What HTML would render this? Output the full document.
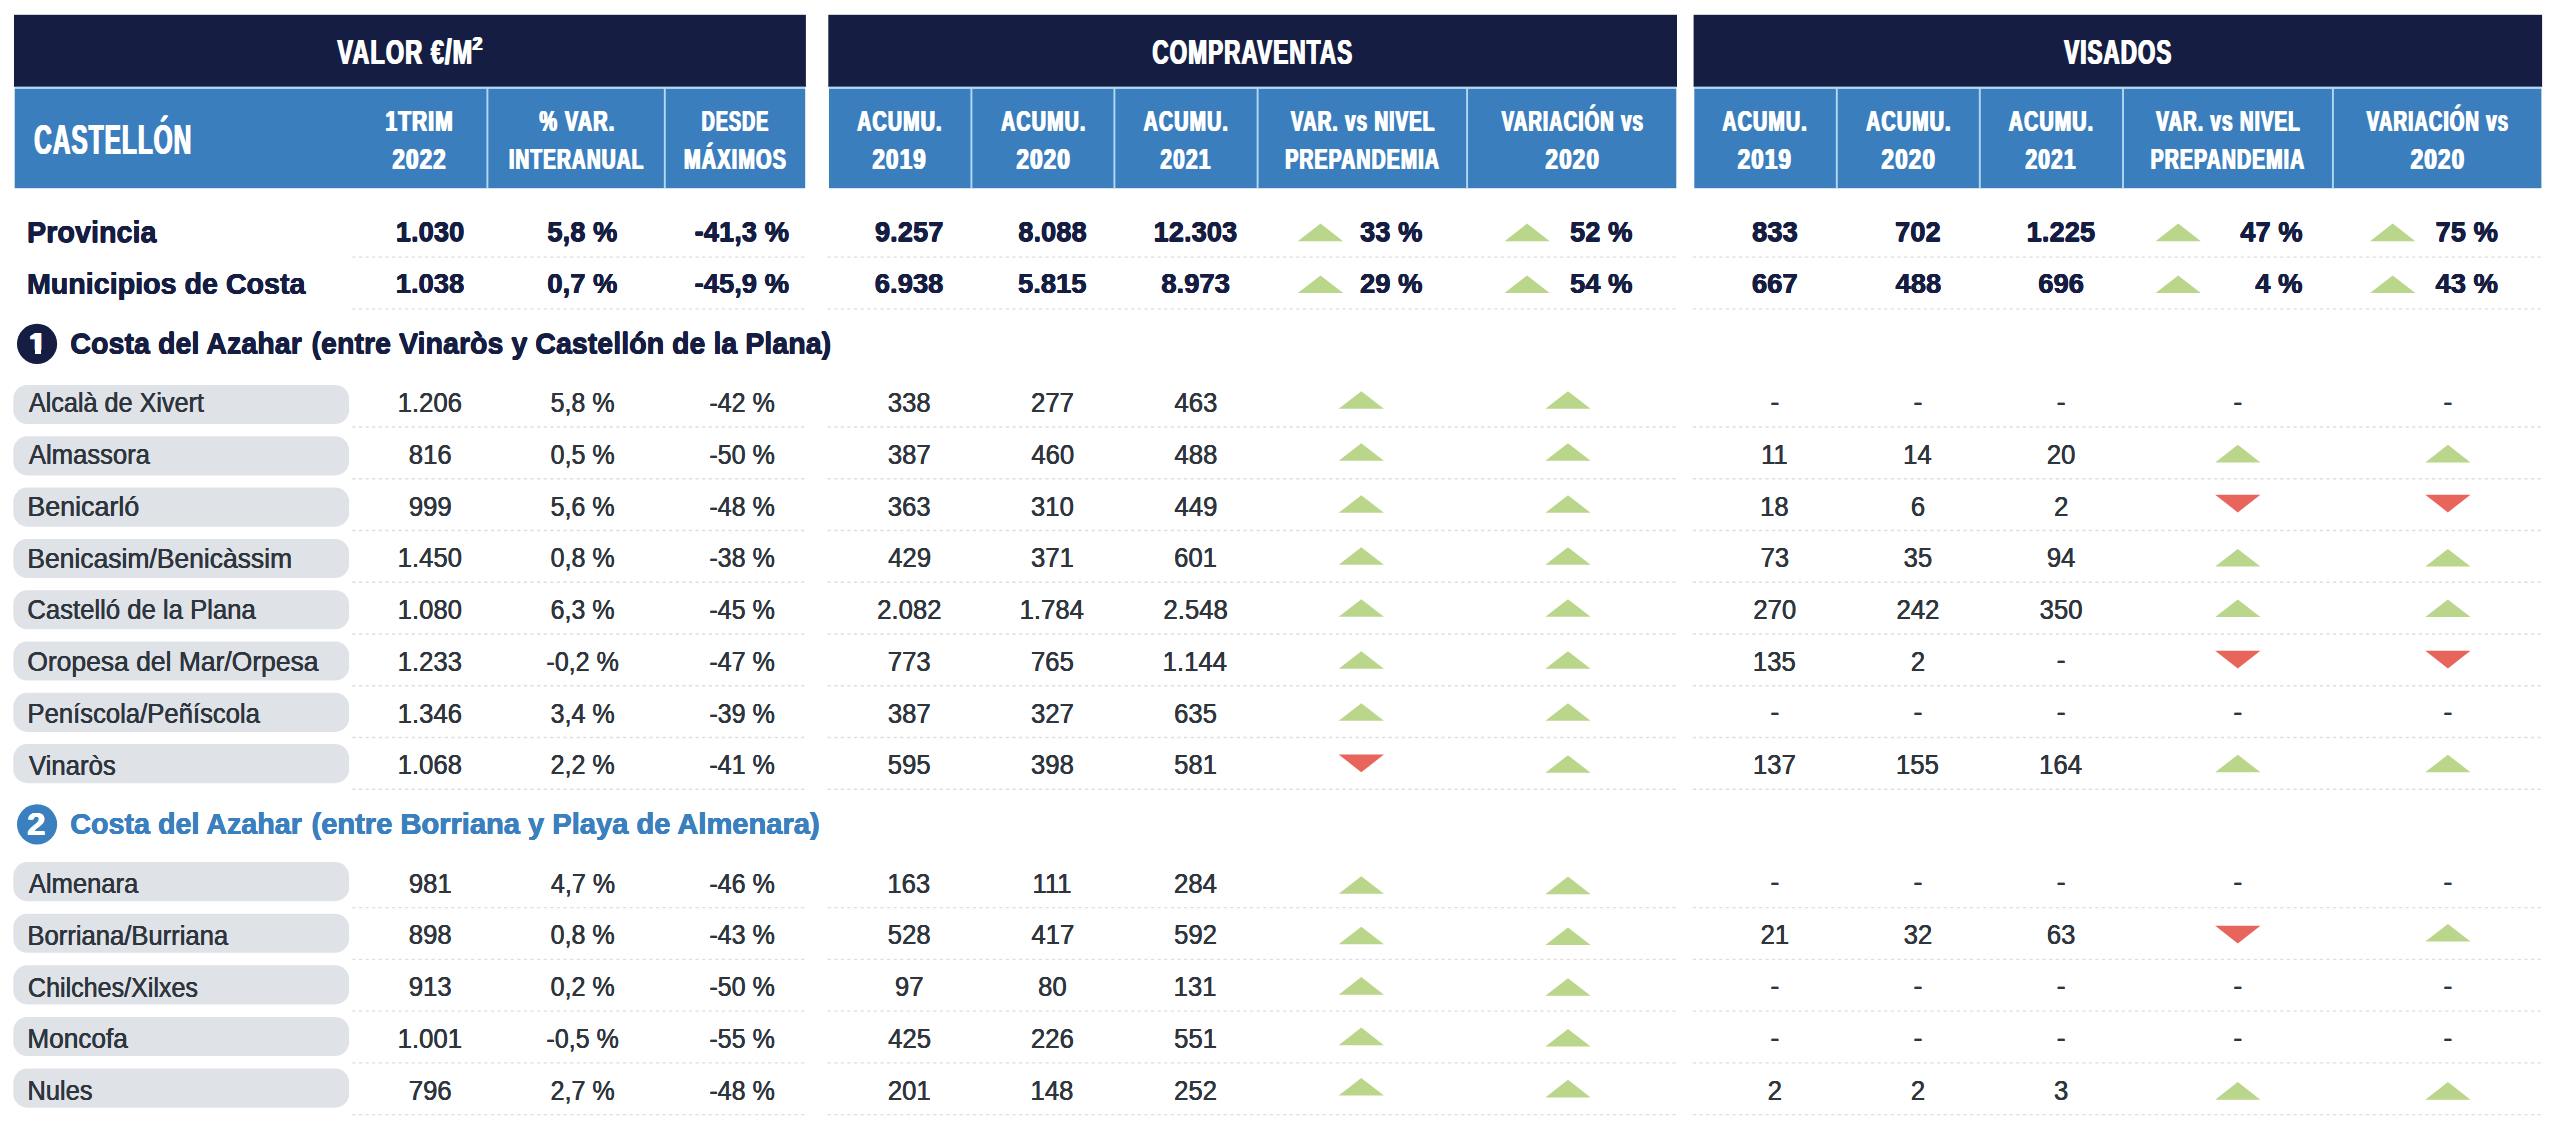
<!DOCTYPE html>
<html lang="es"><head><meta charset="utf-8"><title>Castellón</title>
<style>
html,body{margin:0;padding:0;background:#fff}
body{width:2560px;height:1131px;position:relative;overflow:hidden;font-family:"Liberation Sans",sans-serif}
.dl{stroke:#dedede;stroke-width:1.3;stroke-dasharray:3.2 3.4;fill:none}
#t span{position:absolute;white-space:nowrap;line-height:1;display:block;left:0;top:0;transform-origin:0 0;text-shadow:0.15px 0 currentColor,-0.15px 0 currentColor}
#t .b{font-weight:700;text-shadow:0.3px 0 currentColor,-0.3px 0 currentColor,0 0.2px currentColor,0 -0.2px currentColor}
#t .n{text-shadow:1.7px 0 currentColor,-1.7px 0 currentColor,0.85px 0 currentColor,-0.85px 0 currentColor,0 0.5px currentColor,0 -0.5px currentColor,1.7px 0.5px currentColor,-1.7px -0.5px currentColor,1.7px -0.5px currentColor,-1.7px 0.5px currentColor}
#t .n1{clip-path:polygon(-6px -6px,26px -6px,26px 21.5px,11.88px 21.5px,11.88px 31px,5.92px 31px,5.92px 21.5px,-6px 21.5px)}
#t .h{font-weight:700;letter-spacing:1.7px;text-shadow:1.05px 0 currentColor,-1.05px 0 currentColor}
svg{position:absolute;left:0;top:0}
</style></head><body>
<svg width="2560" height="1131" viewBox="0 0 2560 1131">
<rect x="14.00" y="14.80" width="791.90" height="72.10" fill="#151e42"/>
<rect x="14.70" y="86.70" width="790.50" height="2.30" fill="#b2d8f1"/>
<rect x="14.70" y="88.90" width="790.50" height="99.30" fill="#3a7ebd"/>
<rect x="486.45" y="88.00" width="1.90" height="100.20" fill="#b2d8f1"/>
<rect x="663.85" y="88.00" width="1.90" height="100.20" fill="#b2d8f1"/>
<rect x="828.30" y="14.80" width="848.70" height="72.10" fill="#151e42"/>
<rect x="829.00" y="86.70" width="847.30" height="2.30" fill="#b2d8f1"/>
<rect x="829.00" y="88.90" width="847.30" height="99.30" fill="#3a7ebd"/>
<rect x="970.45" y="88.00" width="1.90" height="100.20" fill="#b2d8f1"/>
<rect x="1113.45" y="88.00" width="1.90" height="100.20" fill="#b2d8f1"/>
<rect x="1256.65" y="88.00" width="1.90" height="100.20" fill="#b2d8f1"/>
<rect x="1466.15" y="88.00" width="1.90" height="100.20" fill="#b2d8f1"/>
<rect x="1693.60" y="14.80" width="848.50" height="72.10" fill="#151e42"/>
<rect x="1694.30" y="86.70" width="847.10" height="2.30" fill="#b2d8f1"/>
<rect x="1694.30" y="88.90" width="847.10" height="99.30" fill="#3a7ebd"/>
<rect x="1835.85" y="88.00" width="1.90" height="100.20" fill="#b2d8f1"/>
<rect x="1978.85" y="88.00" width="1.90" height="100.20" fill="#b2d8f1"/>
<rect x="2122.05" y="88.00" width="1.90" height="100.20" fill="#b2d8f1"/>
<rect x="2331.95" y="88.00" width="1.90" height="100.20" fill="#b2d8f1"/>
<path class="dl" d="M352.30 257.10H805.80"/>
<path class="dl" d="M827.60 257.10H1677.40"/>
<path class="dl" d="M1692.80 257.10H2542.30"/>
<path class="dl" d="M352.30 308.90H805.80"/>
<path class="dl" d="M827.60 308.90H1677.40"/>
<path class="dl" d="M1692.80 308.90H2542.30"/>
<circle cx="37.05" cy="343.90" r="20.1" fill="#151e42"/>
<circle cx="37.05" cy="824.40" r="20.1" fill="#3b80be"/>
<path class="dl" d="M352.30 427.00H805.80"/>
<path class="dl" d="M827.60 427.00H1677.40"/>
<path class="dl" d="M1692.80 427.00H2542.30"/>
<rect x="13.3" y="385.00" width="335.8" height="39.1" rx="14" fill="#dfe3e8"/>
<path class="dl" d="M352.30 478.75H805.80"/>
<path class="dl" d="M827.60 478.75H1677.40"/>
<path class="dl" d="M1692.80 478.75H2542.30"/>
<rect x="13.3" y="436.30" width="335.8" height="39.1" rx="14" fill="#dfe3e8"/>
<path class="dl" d="M352.30 530.50H805.80"/>
<path class="dl" d="M827.60 530.50H1677.40"/>
<path class="dl" d="M1692.80 530.50H2542.30"/>
<rect x="13.3" y="487.60" width="335.8" height="39.1" rx="14" fill="#dfe3e8"/>
<path class="dl" d="M352.30 582.25H805.80"/>
<path class="dl" d="M827.60 582.25H1677.40"/>
<path class="dl" d="M1692.80 582.25H2542.30"/>
<rect x="13.3" y="538.90" width="335.8" height="39.1" rx="14" fill="#dfe3e8"/>
<path class="dl" d="M352.30 634.00H805.80"/>
<path class="dl" d="M827.60 634.00H1677.40"/>
<path class="dl" d="M1692.80 634.00H2542.30"/>
<rect x="13.3" y="590.20" width="335.8" height="39.1" rx="14" fill="#dfe3e8"/>
<path class="dl" d="M352.30 685.75H805.80"/>
<path class="dl" d="M827.60 685.75H1677.40"/>
<path class="dl" d="M1692.80 685.75H2542.30"/>
<rect x="13.3" y="641.50" width="335.8" height="39.1" rx="14" fill="#dfe3e8"/>
<path class="dl" d="M352.30 737.50H805.80"/>
<path class="dl" d="M827.60 737.50H1677.40"/>
<path class="dl" d="M1692.80 737.50H2542.30"/>
<rect x="13.3" y="692.80" width="335.8" height="39.1" rx="14" fill="#dfe3e8"/>
<path class="dl" d="M352.30 789.25H805.80"/>
<path class="dl" d="M827.60 789.25H1677.40"/>
<path class="dl" d="M1692.80 789.25H2542.30"/>
<rect x="13.3" y="744.10" width="335.8" height="39.1" rx="14" fill="#dfe3e8"/>
<path class="dl" d="M352.30 907.70H805.80"/>
<path class="dl" d="M827.60 907.70H1677.40"/>
<path class="dl" d="M1692.80 907.70H2542.30"/>
<rect x="13.3" y="862.10" width="335.8" height="39.1" rx="14" fill="#dfe3e8"/>
<path class="dl" d="M352.30 959.45H805.80"/>
<path class="dl" d="M827.60 959.45H1677.40"/>
<path class="dl" d="M1692.80 959.45H2542.30"/>
<rect x="13.3" y="913.73" width="335.8" height="39.1" rx="14" fill="#dfe3e8"/>
<path class="dl" d="M352.30 1011.20H805.80"/>
<path class="dl" d="M827.60 1011.20H1677.40"/>
<path class="dl" d="M1692.80 1011.20H2542.30"/>
<rect x="13.3" y="965.36" width="335.8" height="39.1" rx="14" fill="#dfe3e8"/>
<path class="dl" d="M352.30 1062.95H805.80"/>
<path class="dl" d="M827.60 1062.95H1677.40"/>
<path class="dl" d="M1692.80 1062.95H2542.30"/>
<rect x="13.3" y="1016.99" width="335.8" height="39.1" rx="14" fill="#dfe3e8"/>
<path class="dl" d="M352.30 1114.70H805.80"/>
<path class="dl" d="M827.60 1114.70H1677.40"/>
<path class="dl" d="M1692.80 1114.70H2542.30"/>
<rect x="13.3" y="1068.62" width="335.8" height="39.1" rx="14" fill="#dfe3e8"/>
<polygon points="1297.90,241.20 1320.50,223.60 1343.10,241.20" fill="#b9d68b"/>
<polygon points="1504.50,241.20 1527.10,223.60 1549.70,241.20" fill="#b9d68b"/>
<polygon points="2155.60,241.20 2178.20,223.60 2200.80,241.20" fill="#b9d68b"/>
<polygon points="2370.10,241.20 2392.70,223.60 2415.30,241.20" fill="#b9d68b"/>
<polygon points="1297.90,293.00 1320.50,275.40 1343.10,293.00" fill="#b9d68b"/>
<polygon points="1504.50,293.00 1527.10,275.40 1549.70,293.00" fill="#b9d68b"/>
<polygon points="2155.60,293.00 2178.20,275.40 2200.80,293.00" fill="#b9d68b"/>
<polygon points="2370.10,293.00 2392.70,275.40 2415.30,293.00" fill="#b9d68b"/>
<polygon points="1338.70,408.80 1361.30,391.20 1383.90,408.80" fill="#b9d68b"/>
<polygon points="1545.40,408.80 1568.00,391.20 1590.60,408.80" fill="#b9d68b"/>
<polygon points="1338.70,460.80 1361.30,443.20 1383.90,460.80" fill="#b9d68b"/>
<polygon points="1545.40,460.80 1568.00,443.20 1590.60,460.80" fill="#b9d68b"/>
<polygon points="2215.20,462.40 2237.80,444.80 2260.40,462.40" fill="#b9d68b"/>
<polygon points="2425.30,462.40 2447.90,444.80 2470.50,462.40" fill="#b9d68b"/>
<polygon points="1338.70,512.80 1361.30,495.20 1383.90,512.80" fill="#b9d68b"/>
<polygon points="1545.40,512.80 1568.00,495.20 1590.60,512.80" fill="#b9d68b"/>
<polygon points="2215.20,494.80 2260.40,494.80 2237.80,512.40" fill="#e8655c"/>
<polygon points="2425.30,494.80 2470.50,494.80 2447.90,512.40" fill="#e8655c"/>
<polygon points="1338.70,564.80 1361.30,547.20 1383.90,564.80" fill="#b9d68b"/>
<polygon points="1545.40,564.80 1568.00,547.20 1590.60,564.80" fill="#b9d68b"/>
<polygon points="2215.20,566.50 2237.80,548.90 2260.40,566.50" fill="#b9d68b"/>
<polygon points="2425.30,566.50 2447.90,548.90 2470.50,566.50" fill="#b9d68b"/>
<polygon points="1338.70,616.80 1361.30,599.20 1383.90,616.80" fill="#b9d68b"/>
<polygon points="1545.40,616.80 1568.00,599.20 1590.60,616.80" fill="#b9d68b"/>
<polygon points="2215.20,617.10 2237.80,599.50 2260.40,617.10" fill="#b9d68b"/>
<polygon points="2425.30,617.10 2447.90,599.50 2470.50,617.10" fill="#b9d68b"/>
<polygon points="1338.70,668.80 1361.30,651.20 1383.90,668.80" fill="#b9d68b"/>
<polygon points="1545.40,668.80 1568.00,651.20 1590.60,668.80" fill="#b9d68b"/>
<polygon points="2215.20,650.80 2260.40,650.80 2237.80,668.40" fill="#e8655c"/>
<polygon points="2425.30,650.80 2470.50,650.80 2447.90,668.40" fill="#e8655c"/>
<polygon points="1338.70,720.80 1361.30,703.20 1383.90,720.80" fill="#b9d68b"/>
<polygon points="1545.40,720.80 1568.00,703.20 1590.60,720.80" fill="#b9d68b"/>
<polygon points="1338.70,754.60 1383.90,754.60 1361.30,772.20" fill="#e8655c"/>
<polygon points="1545.40,772.80 1568.00,755.20 1590.60,772.80" fill="#b9d68b"/>
<polygon points="2215.20,772.30 2237.80,754.70 2260.40,772.30" fill="#b9d68b"/>
<polygon points="2425.30,772.30 2447.90,754.70 2470.50,772.30" fill="#b9d68b"/>
<polygon points="1338.70,893.80 1361.30,876.20 1383.90,893.80" fill="#b9d68b"/>
<polygon points="1545.40,894.20 1568.00,876.60 1590.60,894.20" fill="#b9d68b"/>
<polygon points="1338.70,944.25 1361.30,926.65 1383.90,944.25" fill="#b9d68b"/>
<polygon points="1545.40,945.00 1568.00,927.40 1590.60,945.00" fill="#b9d68b"/>
<polygon points="2215.20,925.80 2260.40,925.80 2237.80,943.40" fill="#e8655c"/>
<polygon points="2425.30,941.60 2447.90,924.00 2470.50,941.60" fill="#b9d68b"/>
<polygon points="1338.70,994.70 1361.30,977.10 1383.90,994.70" fill="#b9d68b"/>
<polygon points="1545.40,995.80 1568.00,978.20 1590.60,995.80" fill="#b9d68b"/>
<polygon points="1338.70,1045.15 1361.30,1027.55 1383.90,1045.15" fill="#b9d68b"/>
<polygon points="1545.40,1046.60 1568.00,1029.00 1590.60,1046.60" fill="#b9d68b"/>
<polygon points="1338.70,1095.60 1361.30,1078.00 1383.90,1095.60" fill="#b9d68b"/>
<polygon points="1545.40,1097.40 1568.00,1079.80 1590.60,1097.40" fill="#b9d68b"/>
<polygon points="2215.20,1099.70 2237.80,1082.10 2260.40,1099.70" fill="#b9d68b"/>
<polygon points="2425.30,1099.70 2447.90,1082.10 2470.50,1099.70" fill="#b9d68b"/>
</svg>
<div id="t">
<span class="h" style="font-size:35.60px;color:#fff;transform:translate(337.36px,35.26px) scaleX(0.6588)">VALOR €/M</span>
<span class="h" style="font-size:18.20px;color:#fff;transform:translate(472.70px,34.89px) scaleX(0.9300)">2</span>
<span class="h" style="font-size:35.60px;color:#fff;transform:translate(1152.29px,35.26px) scaleX(0.6329)">COMPRAVENTAS</span>
<span class="h" style="font-size:35.60px;color:#fff;transform:translate(2064.25px,35.26px) scaleX(0.6286)">VISADOS</span>
<span class="h" style="font-size:41.90px;color:#fff;transform:translate(34.22px,118.83px) scaleX(0.5826)">CASTELLÓN</span>
<span class="h" style="font-size:29.90px;color:#fff;transform:translate(385.40px,106.29px) scaleX(0.6970)">1TRIM</span>
<span class="h" style="font-size:29.90px;color:#fff;transform:translate(392.57px,144.29px) scaleX(0.7397)">2022</span>
<span class="h" style="font-size:29.90px;color:#fff;transform:translate(539.40px,106.29px) scaleX(0.6656)">% VAR.</span>
<span class="h" style="font-size:29.90px;color:#fff;transform:translate(509.01px,144.29px) scaleX(0.6410)">INTERANUAL</span>
<span class="h" style="font-size:29.90px;color:#fff;transform:translate(701.69px,106.29px) scaleX(0.6069)">DESDE</span>
<span class="h" style="font-size:29.90px;color:#fff;transform:translate(684.03px,144.29px) scaleX(0.6661)">MÁXIMOS</span>
<span class="h" style="font-size:29.90px;color:#fff;transform:translate(857.18px,106.29px) scaleX(0.6584)">ACUMU.</span>
<span class="h" style="font-size:29.90px;color:#fff;transform:translate(872.47px,144.29px) scaleX(0.7419)">2019</span>
<span class="h" style="font-size:29.90px;color:#fff;transform:translate(1001.08px,106.29px) scaleX(0.6584)">ACUMU.</span>
<span class="h" style="font-size:29.90px;color:#fff;transform:translate(1016.47px,144.29px) scaleX(0.7441)">2020</span>
<span class="h" style="font-size:29.90px;color:#fff;transform:translate(1143.58px,106.29px) scaleX(0.6584)">ACUMU.</span>
<span class="h" style="font-size:29.90px;color:#fff;transform:translate(1160.37px,144.29px) scaleX(0.6970)">2021</span>
<span class="h" style="font-size:29.90px;color:#fff;transform:translate(1290.82px,106.29px) scaleX(0.6307)">VAR. vs NIVEL</span>
<span class="h" style="font-size:29.90px;color:#fff;transform:translate(1285.25px,144.29px) scaleX(0.6515)">PREPANDEMIA</span>
<span class="h" style="font-size:29.90px;color:#fff;transform:translate(1501.57px,106.29px) scaleX(0.6261)">VARIACIÓN vs</span>
<span class="h" style="font-size:29.90px;color:#fff;transform:translate(1545.57px,144.29px) scaleX(0.7441)">2020</span>
<span class="h" style="font-size:29.90px;color:#fff;transform:translate(1722.38px,106.29px) scaleX(0.6584)">ACUMU.</span>
<span class="h" style="font-size:29.90px;color:#fff;transform:translate(1737.67px,144.29px) scaleX(0.7419)">2019</span>
<span class="h" style="font-size:29.90px;color:#fff;transform:translate(1866.18px,106.29px) scaleX(0.6584)">ACUMU.</span>
<span class="h" style="font-size:29.90px;color:#fff;transform:translate(1881.57px,144.29px) scaleX(0.7441)">2020</span>
<span class="h" style="font-size:29.90px;color:#fff;transform:translate(2008.78px,106.29px) scaleX(0.6584)">ACUMU.</span>
<span class="h" style="font-size:29.90px;color:#fff;transform:translate(2025.57px,144.29px) scaleX(0.6970)">2021</span>
<span class="h" style="font-size:29.90px;color:#fff;transform:translate(2156.22px,106.29px) scaleX(0.6307)">VAR. vs NIVEL</span>
<span class="h" style="font-size:29.90px;color:#fff;transform:translate(2150.65px,144.29px) scaleX(0.6515)">PREPANDEMIA</span>
<span class="h" style="font-size:29.90px;color:#fff;transform:translate(2366.77px,106.29px) scaleX(0.6261)">VARIACIÓN vs</span>
<span class="h" style="font-size:29.90px;color:#fff;transform:translate(2410.77px,144.29px) scaleX(0.7441)">2020</span>
<span class="b" style="font-size:29.40px;color:#151e42;transform:translate(26.94px,217.31px) scaleX(0.9795)">Provincia</span>
<span class="b" style="font-size:27.40px;color:#151e42;transform:translate(395.78px,218.41px) scaleX(1.0000)">1.030</span>
<span class="b" style="font-size:27.40px;color:#151e42;transform:translate(547.37px,218.41px) scaleX(1.0000)">5,8 %</span>
<span class="b" style="font-size:27.40px;color:#151e42;transform:translate(694.61px,218.41px) scaleX(1.0000)">-41,3 %</span>
<span class="b" style="font-size:27.40px;color:#151e42;transform:translate(874.89px,218.41px) scaleX(1.0000)">9.257</span>
<span class="b" style="font-size:27.40px;color:#151e42;transform:translate(1018.22px,218.41px) scaleX(1.0000)">8.088</span>
<span class="b" style="font-size:27.40px;color:#151e42;transform:translate(1153.51px,218.41px) scaleX(1.0000)">12.303</span>
<span class="b" style="font-size:27.40px;color:#151e42;transform:translate(1752.11px,218.41px) scaleX(1.0000)">833</span>
<span class="b" style="font-size:27.40px;color:#151e42;transform:translate(1895.00px,218.41px) scaleX(1.0000)">702</span>
<span class="b" style="font-size:27.40px;color:#151e42;transform:translate(2026.61px,218.41px) scaleX(1.0000)">1.225</span>
<span class="b" style="font-size:27.40px;color:#151e42;transform:translate(1360.00px,218.41px) scaleX(1.0000)">33 %</span>
<span class="b" style="font-size:27.40px;color:#151e42;transform:translate(1570.00px,218.41px) scaleX(1.0000)">52 %</span>
<span class="b" style="font-size:27.40px;color:#151e42;transform:translate(2240.20px,218.41px) scaleX(1.0000)">47 %</span>
<span class="b" style="font-size:27.40px;color:#151e42;transform:translate(2435.50px,218.41px) scaleX(1.0000)">75 %</span>
<span class="b" style="font-size:29.40px;color:#151e42;transform:translate(26.95px,269.11px) scaleX(0.9746)">Municipios de Costa</span>
<span class="b" style="font-size:27.40px;color:#151e42;transform:translate(395.72px,270.21px) scaleX(1.0000)">1.038</span>
<span class="b" style="font-size:27.40px;color:#151e42;transform:translate(547.37px,270.21px) scaleX(1.0000)">0,7 %</span>
<span class="b" style="font-size:27.40px;color:#151e42;transform:translate(694.61px,270.21px) scaleX(1.0000)">-45,9 %</span>
<span class="b" style="font-size:27.40px;color:#151e42;transform:translate(874.80px,270.21px) scaleX(1.0000)">6.938</span>
<span class="b" style="font-size:27.40px;color:#151e42;transform:translate(1018.00px,270.21px) scaleX(1.0000)">5.815</span>
<span class="b" style="font-size:27.40px;color:#151e42;transform:translate(1161.33px,270.21px) scaleX(1.0000)">8.973</span>
<span class="b" style="font-size:27.40px;color:#151e42;transform:translate(1751.91px,270.21px) scaleX(1.0000)">667</span>
<span class="b" style="font-size:27.40px;color:#151e42;transform:translate(1895.50px,270.21px) scaleX(1.0000)">488</span>
<span class="b" style="font-size:27.40px;color:#151e42;transform:translate(2038.20px,270.21px) scaleX(1.0000)">696</span>
<span class="b" style="font-size:27.40px;color:#151e42;transform:translate(1360.00px,270.21px) scaleX(1.0000)">29 %</span>
<span class="b" style="font-size:27.40px;color:#151e42;transform:translate(1570.00px,270.21px) scaleX(1.0000)">54 %</span>
<span class="b" style="font-size:27.40px;color:#151e42;transform:translate(2255.26px,270.21px) scaleX(1.0000)">4 %</span>
<span class="b" style="font-size:27.40px;color:#151e42;transform:translate(2435.50px,270.21px) scaleX(1.0000)">43 %</span>
<span class="n n1" style="font-size:30.00px;color:#fff;transform:translate(29.10px,328.31px) scaleX(1.0000)">1</span>
<span class="b" style="font-size:29.80px;color:#151e42;transform:translate(70.34px,328.57px) scaleX(0.9620)">Costa del Azahar</span>
<span class="b" style="font-size:29.80px;color:#151e42;transform:translate(311.51px,328.57px) scaleX(0.9606)">(entre Vinaròs y Castellón de la Plana)</span>
<span class="b" style="font-size:30.60px;color:#fff;transform:translate(27.12px,809.00px) scaleX(1.0800)">2</span>
<span class="b" style="font-size:29.80px;color:#3b80be;transform:translate(70.34px,809.27px) scaleX(0.9620)">Costa del Azahar</span>
<span class="b" style="font-size:29.80px;color:#3b80be;transform:translate(311.50px,809.27px) scaleX(0.9761)">(entre Borriana y Playa de Almenara)</span>
<span style="font-size:27.10px;color:#2e353d;transform:translate(28.90px,389.36px) scaleX(0.9298)">Alcalà de Xivert</span>
<span style="font-size:26.80px;color:#2e353d;transform:translate(397.66px,390.01px) scaleX(0.9600)">1.206</span>
<span style="font-size:26.80px;color:#2e353d;transform:translate(550.58px,390.01px) scaleX(0.9350)">5,8 %</span>
<span style="font-size:26.80px;color:#2e353d;transform:translate(709.38px,390.01px) scaleX(0.9350)">-42 %</span>
<span style="font-size:26.80px;color:#2e353d;transform:translate(887.75px,390.01px) scaleX(0.9600)">338</span>
<span style="font-size:26.80px;color:#2e353d;transform:translate(1030.99px,390.01px) scaleX(0.9600)">277</span>
<span style="font-size:26.80px;color:#2e353d;transform:translate(1174.45px,390.01px) scaleX(0.9600)">463</span>
<span style="font-size:26.80px;color:#2e353d;transform:translate(1770.40px,388.71px) scaleX(1.0000)">-</span>
<span style="font-size:26.80px;color:#2e353d;transform:translate(1913.50px,388.71px) scaleX(1.0000)">-</span>
<span style="font-size:26.80px;color:#2e353d;transform:translate(2056.70px,388.71px) scaleX(1.0000)">-</span>
<span style="font-size:26.80px;color:#2e353d;transform:translate(2233.30px,388.71px) scaleX(1.0000)">-</span>
<span style="font-size:26.80px;color:#2e353d;transform:translate(2443.40px,388.71px) scaleX(1.0000)">-</span>
<span style="font-size:27.10px;color:#2e353d;transform:translate(28.90px,441.11px) scaleX(0.9461)">Almassora</span>
<span style="font-size:26.80px;color:#2e353d;transform:translate(408.76px,441.76px) scaleX(0.9600)">816</span>
<span style="font-size:26.80px;color:#2e353d;transform:translate(550.60px,441.76px) scaleX(0.9350)">0,5 %</span>
<span style="font-size:26.80px;color:#2e353d;transform:translate(709.38px,441.76px) scaleX(0.9350)">-50 %</span>
<span style="font-size:26.80px;color:#2e353d;transform:translate(887.80px,441.76px) scaleX(0.9600)">387</span>
<span style="font-size:26.80px;color:#2e353d;transform:translate(1031.30px,441.76px) scaleX(0.9600)">460</span>
<span style="font-size:26.80px;color:#2e353d;transform:translate(1174.44px,441.76px) scaleX(0.9600)">488</span>
<span style="font-size:26.80px;color:#2e353d;transform:translate(1761.03px,441.76px) scaleX(0.9600)">11</span>
<span style="font-size:26.80px;color:#2e353d;transform:translate(1903.12px,441.76px) scaleX(0.9600)">14</span>
<span style="font-size:26.80px;color:#2e353d;transform:translate(2046.80px,441.76px) scaleX(0.9600)">20</span>
<span style="font-size:27.10px;color:#2e353d;transform:translate(27.32px,492.86px) scaleX(0.9909)">Benicarló</span>
<span style="font-size:26.80px;color:#2e353d;transform:translate(408.78px,493.51px) scaleX(0.9600)">999</span>
<span style="font-size:26.80px;color:#2e353d;transform:translate(550.58px,493.51px) scaleX(0.9350)">5,6 %</span>
<span style="font-size:26.80px;color:#2e353d;transform:translate(709.38px,493.51px) scaleX(0.9350)">-48 %</span>
<span style="font-size:26.80px;color:#2e353d;transform:translate(887.76px,493.51px) scaleX(0.9600)">363</span>
<span style="font-size:26.80px;color:#2e353d;transform:translate(1030.92px,493.51px) scaleX(0.9600)">310</span>
<span style="font-size:26.80px;color:#2e353d;transform:translate(1174.47px,493.51px) scaleX(0.9600)">449</span>
<span style="font-size:26.80px;color:#2e353d;transform:translate(1760.05px,493.51px) scaleX(0.9600)">18</span>
<span style="font-size:26.80px;color:#2e353d;transform:translate(1910.79px,493.51px) scaleX(0.9600)">6</span>
<span style="font-size:26.80px;color:#2e353d;transform:translate(2054.02px,493.51px) scaleX(0.9600)">2</span>
<span style="font-size:27.10px;color:#2e353d;transform:translate(27.35px,544.61px) scaleX(0.9768)">Benicasim/Benicàssim</span>
<span style="font-size:26.80px;color:#2e353d;transform:translate(397.66px,545.26px) scaleX(0.9600)">1.450</span>
<span style="font-size:26.80px;color:#2e353d;transform:translate(550.60px,545.26px) scaleX(0.9350)">0,8 %</span>
<span style="font-size:26.80px;color:#2e353d;transform:translate(709.38px,545.26px) scaleX(0.9350)">-38 %</span>
<span style="font-size:26.80px;color:#2e353d;transform:translate(888.17px,545.26px) scaleX(0.9600)">429</span>
<span style="font-size:26.80px;color:#2e353d;transform:translate(1030.99px,545.26px) scaleX(0.9600)">371</span>
<span style="font-size:26.80px;color:#2e353d;transform:translate(1174.07px,545.26px) scaleX(0.9600)">601</span>
<span style="font-size:26.80px;color:#2e353d;transform:translate(1760.52px,545.26px) scaleX(0.9600)">73</span>
<span style="font-size:26.80px;color:#2e353d;transform:translate(1903.62px,545.26px) scaleX(0.9600)">35</span>
<span style="font-size:26.80px;color:#2e353d;transform:translate(2046.79px,545.26px) scaleX(0.9600)">94</span>
<span style="font-size:27.10px;color:#2e353d;transform:translate(27.31px,596.36px) scaleX(0.9481)">Castelló de la Plana</span>
<span style="font-size:26.80px;color:#2e353d;transform:translate(397.66px,597.01px) scaleX(0.9600)">1.080</span>
<span style="font-size:26.80px;color:#2e353d;transform:translate(550.58px,597.01px) scaleX(0.9350)">6,3 %</span>
<span style="font-size:26.80px;color:#2e353d;transform:translate(709.38px,597.01px) scaleX(0.9350)">-45 %</span>
<span style="font-size:26.80px;color:#2e353d;transform:translate(877.14px,597.01px) scaleX(0.9600)">2.082</span>
<span style="font-size:26.80px;color:#2e353d;transform:translate(1019.55px,597.01px) scaleX(0.9600)">1.784</span>
<span style="font-size:26.80px;color:#2e353d;transform:translate(1163.43px,597.01px) scaleX(0.9600)">2.548</span>
<span style="font-size:26.80px;color:#2e353d;transform:translate(1753.31px,597.01px) scaleX(0.9600)">270</span>
<span style="font-size:26.80px;color:#2e353d;transform:translate(1896.49px,597.01px) scaleX(0.9600)">242</span>
<span style="font-size:26.80px;color:#2e353d;transform:translate(2039.62px,597.01px) scaleX(0.9600)">350</span>
<span style="font-size:27.10px;color:#2e353d;transform:translate(27.31px,648.11px) scaleX(0.9765)">Oropesa del Mar/Orpesa</span>
<span style="font-size:26.80px;color:#2e353d;transform:translate(397.66px,648.76px) scaleX(0.9600)">1.233</span>
<span style="font-size:26.80px;color:#2e353d;transform:translate(546.43px,648.76px) scaleX(0.9350)">-0,2 %</span>
<span style="font-size:26.80px;color:#2e353d;transform:translate(709.38px,648.76px) scaleX(0.9350)">-47 %</span>
<span style="font-size:26.80px;color:#2e353d;transform:translate(887.74px,648.76px) scaleX(0.9600)">773</span>
<span style="font-size:26.80px;color:#2e353d;transform:translate(1030.92px,648.76px) scaleX(0.9600)">765</span>
<span style="font-size:26.80px;color:#2e353d;transform:translate(1162.65px,648.76px) scaleX(0.9600)">1.144</span>
<span style="font-size:26.80px;color:#2e353d;transform:translate(1752.86px,648.76px) scaleX(0.9600)">135</span>
<span style="font-size:26.80px;color:#2e353d;transform:translate(1910.82px,648.76px) scaleX(0.9600)">2</span>
<span style="font-size:26.80px;color:#2e353d;transform:translate(2056.70px,647.46px) scaleX(1.0000)">-</span>
<span style="font-size:27.10px;color:#2e353d;transform:translate(27.41px,699.86px) scaleX(0.9472)">Peníscola/Peñíscola</span>
<span style="font-size:26.80px;color:#2e353d;transform:translate(397.66px,700.51px) scaleX(0.9600)">1.346</span>
<span style="font-size:26.80px;color:#2e353d;transform:translate(550.60px,700.51px) scaleX(0.9350)">3,4 %</span>
<span style="font-size:26.80px;color:#2e353d;transform:translate(709.38px,700.51px) scaleX(0.9350)">-39 %</span>
<span style="font-size:26.80px;color:#2e353d;transform:translate(887.80px,700.51px) scaleX(0.9600)">387</span>
<span style="font-size:26.80px;color:#2e353d;transform:translate(1031.00px,700.51px) scaleX(0.9600)">327</span>
<span style="font-size:26.80px;color:#2e353d;transform:translate(1174.02px,700.51px) scaleX(0.9600)">635</span>
<span style="font-size:26.80px;color:#2e353d;transform:translate(1770.40px,699.21px) scaleX(1.0000)">-</span>
<span style="font-size:26.80px;color:#2e353d;transform:translate(1913.50px,699.21px) scaleX(1.0000)">-</span>
<span style="font-size:26.80px;color:#2e353d;transform:translate(2056.70px,699.21px) scaleX(1.0000)">-</span>
<span style="font-size:26.80px;color:#2e353d;transform:translate(2233.30px,699.21px) scaleX(1.0000)">-</span>
<span style="font-size:26.80px;color:#2e353d;transform:translate(2443.40px,699.21px) scaleX(1.0000)">-</span>
<span style="font-size:27.10px;color:#2e353d;transform:translate(28.89px,751.61px) scaleX(0.9513)">Vinaròs</span>
<span style="font-size:26.80px;color:#2e353d;transform:translate(397.66px,752.26px) scaleX(0.9600)">1.068</span>
<span style="font-size:26.80px;color:#2e353d;transform:translate(550.59px,752.26px) scaleX(0.9350)">2,2 %</span>
<span style="font-size:26.80px;color:#2e353d;transform:translate(709.38px,752.26px) scaleX(0.9350)">-41 %</span>
<span style="font-size:26.80px;color:#2e353d;transform:translate(887.72px,752.26px) scaleX(0.9600)">595</span>
<span style="font-size:26.80px;color:#2e353d;transform:translate(1030.95px,752.26px) scaleX(0.9600)">398</span>
<span style="font-size:26.80px;color:#2e353d;transform:translate(1174.07px,752.26px) scaleX(0.9600)">581</span>
<span style="font-size:26.80px;color:#2e353d;transform:translate(1752.92px,752.26px) scaleX(0.9600)">137</span>
<span style="font-size:26.80px;color:#2e353d;transform:translate(1895.96px,752.26px) scaleX(0.9600)">155</span>
<span style="font-size:26.80px;color:#2e353d;transform:translate(2039.12px,752.26px) scaleX(0.9600)">164</span>
<span style="font-size:27.10px;color:#2e353d;transform:translate(28.90px,870.06px) scaleX(0.9431)">Almenara</span>
<span style="font-size:26.80px;color:#2e353d;transform:translate(408.78px,870.71px) scaleX(0.9600)">981</span>
<span style="font-size:26.80px;color:#2e353d;transform:translate(550.98px,870.71px) scaleX(0.9350)">4,7 %</span>
<span style="font-size:26.80px;color:#2e353d;transform:translate(709.38px,870.71px) scaleX(0.9350)">-46 %</span>
<span style="font-size:26.80px;color:#2e353d;transform:translate(887.28px,870.71px) scaleX(0.9600)">163</span>
<span style="font-size:26.80px;color:#2e353d;transform:translate(1032.43px,870.71px) scaleX(0.9600)">111</span>
<span style="font-size:26.80px;color:#2e353d;transform:translate(1173.99px,870.71px) scaleX(0.9600)">284</span>
<span style="font-size:26.80px;color:#2e353d;transform:translate(1770.40px,869.41px) scaleX(1.0000)">-</span>
<span style="font-size:26.80px;color:#2e353d;transform:translate(1913.50px,869.41px) scaleX(1.0000)">-</span>
<span style="font-size:26.80px;color:#2e353d;transform:translate(2056.70px,869.41px) scaleX(1.0000)">-</span>
<span style="font-size:26.80px;color:#2e353d;transform:translate(2233.30px,869.41px) scaleX(1.0000)">-</span>
<span style="font-size:26.80px;color:#2e353d;transform:translate(2443.40px,869.41px) scaleX(1.0000)">-</span>
<span style="font-size:27.10px;color:#2e353d;transform:translate(27.41px,921.81px) scaleX(0.9455)">Borriana/Burriana</span>
<span style="font-size:26.80px;color:#2e353d;transform:translate(408.75px,922.46px) scaleX(0.9600)">898</span>
<span style="font-size:26.80px;color:#2e353d;transform:translate(550.60px,922.46px) scaleX(0.9350)">0,8 %</span>
<span style="font-size:26.80px;color:#2e353d;transform:translate(709.38px,922.46px) scaleX(0.9350)">-43 %</span>
<span style="font-size:26.80px;color:#2e353d;transform:translate(887.73px,922.46px) scaleX(0.9600)">528</span>
<span style="font-size:26.80px;color:#2e353d;transform:translate(1031.39px,922.46px) scaleX(0.9600)">417</span>
<span style="font-size:26.80px;color:#2e353d;transform:translate(1174.08px,922.46px) scaleX(0.9600)">592</span>
<span style="font-size:26.80px;color:#2e353d;transform:translate(1760.55px,922.46px) scaleX(0.9600)">21</span>
<span style="font-size:26.80px;color:#2e353d;transform:translate(1903.67px,922.46px) scaleX(0.9600)">32</span>
<span style="font-size:26.80px;color:#2e353d;transform:translate(2046.81px,922.46px) scaleX(0.9600)">63</span>
<span style="font-size:27.10px;color:#2e353d;transform:translate(27.93px,973.56px) scaleX(0.9257)">Chilches/Xilxes</span>
<span style="font-size:26.80px;color:#2e353d;transform:translate(408.75px,974.21px) scaleX(0.9600)">913</span>
<span style="font-size:26.80px;color:#2e353d;transform:translate(550.60px,974.21px) scaleX(0.9350)">0,2 %</span>
<span style="font-size:26.80px;color:#2e353d;transform:translate(709.38px,974.21px) scaleX(0.9350)">-50 %</span>
<span style="font-size:26.80px;color:#2e353d;transform:translate(894.96px,974.21px) scaleX(0.9600)">97</span>
<span style="font-size:26.80px;color:#2e353d;transform:translate(1038.11px,974.21px) scaleX(0.9600)">80</span>
<span style="font-size:26.80px;color:#2e353d;transform:translate(1173.61px,974.21px) scaleX(0.9600)">131</span>
<span style="font-size:26.80px;color:#2e353d;transform:translate(1770.40px,972.91px) scaleX(1.0000)">-</span>
<span style="font-size:26.80px;color:#2e353d;transform:translate(1913.50px,972.91px) scaleX(1.0000)">-</span>
<span style="font-size:26.80px;color:#2e353d;transform:translate(2056.70px,972.91px) scaleX(1.0000)">-</span>
<span style="font-size:26.80px;color:#2e353d;transform:translate(2233.30px,972.91px) scaleX(1.0000)">-</span>
<span style="font-size:26.80px;color:#2e353d;transform:translate(2443.40px,972.91px) scaleX(1.0000)">-</span>
<span style="font-size:27.10px;color:#2e353d;transform:translate(27.37px,1025.31px) scaleX(0.9667)">Moncofa</span>
<span style="font-size:26.80px;color:#2e353d;transform:translate(397.67px,1025.96px) scaleX(0.9600)">1.001</span>
<span style="font-size:26.80px;color:#2e353d;transform:translate(546.43px,1025.96px) scaleX(0.9350)">-0,5 %</span>
<span style="font-size:26.80px;color:#2e353d;transform:translate(709.38px,1025.96px) scaleX(0.9350)">-55 %</span>
<span style="font-size:26.80px;color:#2e353d;transform:translate(888.13px,1025.96px) scaleX(0.9600)">425</span>
<span style="font-size:26.80px;color:#2e353d;transform:translate(1030.95px,1025.96px) scaleX(0.9600)">226</span>
<span style="font-size:26.80px;color:#2e353d;transform:translate(1174.07px,1025.96px) scaleX(0.9600)">551</span>
<span style="font-size:26.80px;color:#2e353d;transform:translate(1770.40px,1024.66px) scaleX(1.0000)">-</span>
<span style="font-size:26.80px;color:#2e353d;transform:translate(1913.50px,1024.66px) scaleX(1.0000)">-</span>
<span style="font-size:26.80px;color:#2e353d;transform:translate(2056.70px,1024.66px) scaleX(1.0000)">-</span>
<span style="font-size:26.80px;color:#2e353d;transform:translate(2233.30px,1024.66px) scaleX(1.0000)">-</span>
<span style="font-size:26.80px;color:#2e353d;transform:translate(2443.40px,1024.66px) scaleX(1.0000)">-</span>
<span style="font-size:27.10px;color:#2e353d;transform:translate(27.42px,1077.06px) scaleX(0.9402)">Nules</span>
<span style="font-size:26.80px;color:#2e353d;transform:translate(408.74px,1077.71px) scaleX(0.9600)">796</span>
<span style="font-size:26.80px;color:#2e353d;transform:translate(550.59px,1077.71px) scaleX(0.9350)">2,7 %</span>
<span style="font-size:26.80px;color:#2e353d;transform:translate(709.38px,1077.71px) scaleX(0.9350)">-48 %</span>
<span style="font-size:26.80px;color:#2e353d;transform:translate(887.78px,1077.71px) scaleX(0.9600)">201</span>
<span style="font-size:26.80px;color:#2e353d;transform:translate(1030.47px,1077.71px) scaleX(0.9600)">148</span>
<span style="font-size:26.80px;color:#2e353d;transform:translate(1174.09px,1077.71px) scaleX(0.9600)">252</span>
<span style="font-size:26.80px;color:#2e353d;transform:translate(1767.72px,1077.71px) scaleX(0.9600)">2</span>
<span style="font-size:26.80px;color:#2e353d;transform:translate(1910.82px,1077.71px) scaleX(0.9600)">2</span>
<span style="font-size:26.80px;color:#2e353d;transform:translate(2054.01px,1077.71px) scaleX(0.9600)">3</span>
</div>
</body></html>
